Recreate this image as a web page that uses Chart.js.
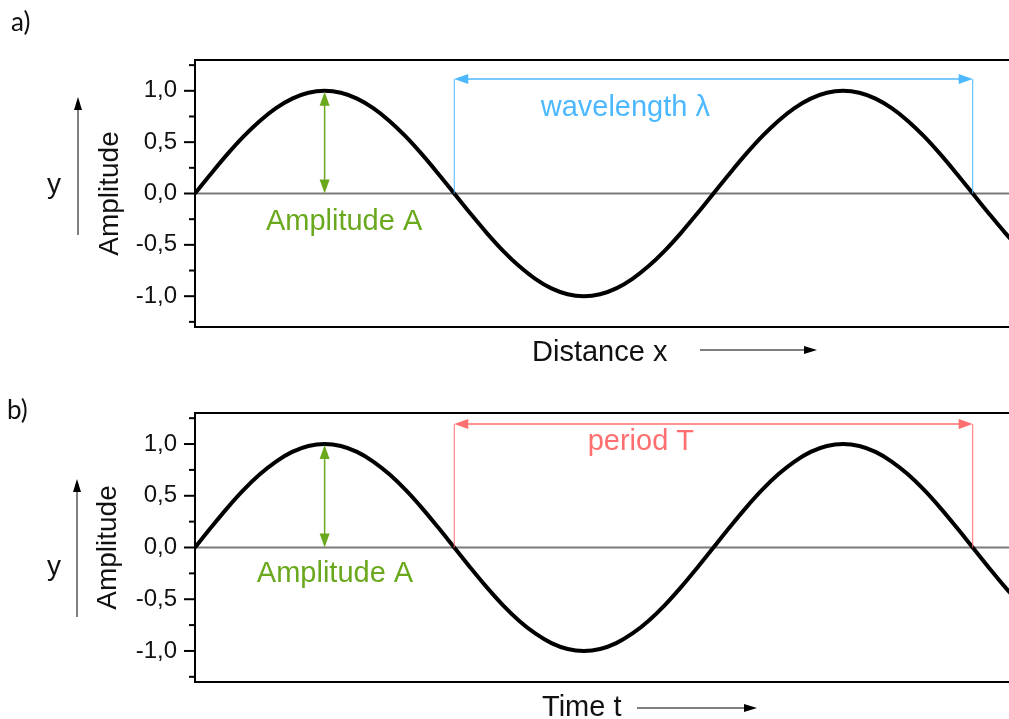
<!DOCTYPE html>
<html>
<head>
<meta charset="utf-8">
<script src="https://cdn.jsdelivr.net/npm/chart.js@4.4.0/dist/chart.umd.min.js"></script>
<style>
  body{margin:0;background:#fff;}
  #wrap{position:relative;width:1009px;height:719px;overflow:hidden;}
  canvas{position:absolute;left:0;}
</style>
</head>
<body>
<div id="wrap">
  <canvas id="waveA" width="1009" height="380" style="top:0"></canvas>
  <canvas id="waveB" width="1009" height="339" style="top:380px"></canvas>
</div>
<script>
// x in quarter wavelengths (0 = left axis), y
const xPos = [0,0.125,0.25,0.375,0.5,0.625,0.75,0.875,1,1.125,1.25,1.375,1.5,1.625,1.75,1.875,
  2,2.125,2.25,2.375,2.5,2.625,2.75,2.875,3,3.125,3.25,3.375,3.5,3.625,3.75,3.875,
  4,4.125,4.25,4.375,4.5,4.625,4.75,4.875,5,5.125,5.25,5.375,5.5,5.625,5.75,5.875,
  6,6.125,6.25,6.375,6.5];
const amplitude = [0,0.195,0.383,0.556,0.707,0.831,0.924,0.981,1,0.981,0.924,0.831,0.707,0.556,0.383,0.195,
  0,-0.195,-0.383,-0.556,-0.707,-0.831,-0.924,-0.981,-1,-0.981,-0.924,-0.831,-0.707,-0.556,-0.383,-0.195,
  0,0.195,0.383,0.556,0.707,0.831,0.924,0.981,1,0.981,0.924,0.831,0.707,0.556,0.383,0.195,
  0,-0.195,-0.383,-0.556,-0.707];
const yMajor = [-1,-0.5,0,0.5,1];
const yLabels = ['-1,0','-0,5','0,0','0,5','1,0'];
const spanFrom = 2, spanTo = 6;   // bracket ends (zero crossings)
const ampAt = 1;                  // first crest

const GREEN = '#6aa81e';

function arrowHead(ctx, x, y, ang, len, half, color){
  ctx.save();
  ctx.translate(x, y);
  ctx.rotate(ang);
  ctx.beginPath();
  ctx.moveTo(0, 0);
  ctx.lineTo(-len, -half);
  ctx.lineTo(-len, half);
  ctx.closePath();
  ctx.fillStyle = color;
  ctx.fill();
  ctx.restore();
}

const decor = {
  id: 'decor',
  beforeDatasetsDraw(chart){
    const {ctx, chartArea: a, scales: {y}} = chart;
    const y0 = y.getPixelForValue(0);
    ctx.save();
    ctx.strokeStyle = '#7a7a7a';
    ctx.lineWidth = 2;
    ctx.beginPath();
    ctx.moveTo(a.left, y0);
    ctx.lineTo(a.right, y0);
    ctx.stroke();
    ctx.restore();
  },
  afterDraw(chart, args, o){
    const {ctx, chartArea: a, scales: {x, y}} = chart;
    ctx.save();
    // frame
    ctx.strokeStyle = '#000';
    ctx.lineWidth = 2;
    ctx.beginPath();
    ctx.moveTo(a.right, a.top);
    ctx.lineTo(a.left, a.top);
    ctx.lineTo(a.left, a.bottom);
    ctx.lineTo(a.right, a.bottom);
    ctx.stroke();
    // y ticks
    y.ticks.forEach(t => {
      const py = y.getPixelForValue(t.value);
      const len = t.label ? 11 : 6;
      ctx.beginPath();
      ctx.moveTo(a.left - len, py);
      ctx.lineTo(a.left, py);
      ctx.stroke();
    });

    // amplitude arrow
    const ax = x.getPixelForValue(ampAt);
    const ay0 = y.getPixelForValue(0), ay1 = y.getPixelForValue(1);
    ctx.strokeStyle = GREEN;
    ctx.lineWidth = 1.5;
    ctx.beginPath();
    ctx.moveTo(ax, ay0 - 10);
    ctx.lineTo(ax, ay1 + 10);
    ctx.stroke();
    arrowHead(ctx, ax, ay1 + 1, -Math.PI/2, 14, 5, GREEN);
    arrowHead(ctx, ax, ay0, Math.PI/2, 14, 5, GREEN);
    ctx.fillStyle = GREEN;
    ctx.font = '29px "Liberation Sans", Arial, sans-serif';
    ctx.textAlign = 'center';
    ctx.textBaseline = 'alphabetic';
    ctx.fillText('Amplitude A', x.getPixelForValue(o.ampText[0]), y.getPixelForValue(o.ampText[1]));

    // wavelength / period bracket
    const sx0 = x.getPixelForValue(spanFrom), sx1 = x.getPixelForValue(spanTo);
    const sy = y.getPixelForValue(o.spanY);
    ctx.strokeStyle = o.spanColor;
    ctx.lineWidth = 1;
    ctx.beginPath();
    ctx.moveTo(sx0, ay0); ctx.lineTo(sx0, sy);
    ctx.moveTo(sx1, ay0); ctx.lineTo(sx1, sy);
    ctx.stroke();
    ctx.lineWidth = 1.5;
    ctx.beginPath();
    ctx.moveTo(sx0 + 10, sy); ctx.lineTo(sx1 - 10, sy);
    ctx.stroke();
    arrowHead(ctx, sx0, sy, Math.PI, 14, 5, o.spanColor);
    arrowHead(ctx, sx1, sy, 0, 14, 5, o.spanColor);
    ctx.fillStyle = o.spanColor;
    ctx.fillText(o.spanText, x.getPixelForValue(o.spanTextAt[0]), y.getPixelForValue(o.spanTextAt[1]));

    // panel letter, y symbol and axis arrows
    ctx.fillStyle = '#111';
    ctx.textAlign = 'left';
    ctx.font = '26px Lato, "Open Sans", sans-serif';
    ctx.fillText(o.letter[0], o.letter[1], o.letter[2]);
    ctx.font = '28px "Liberation Sans", Arial, sans-serif';
    ctx.textAlign = 'center';
    ctx.fillText('y', o.ySym[0], o.ySym[1]);
    ctx.strokeStyle = '#000';
    ctx.lineWidth = 1;
    ctx.beginPath();
    ctx.moveTo(o.upArrow[0], o.upArrow[1]);
    ctx.lineTo(o.upArrow[0], o.upArrow[2] + 8);
    ctx.stroke();
    arrowHead(ctx, o.upArrow[0], o.upArrow[2], -Math.PI/2, 13, 4, '#000');

    ctx.textAlign = 'left';
    ctx.font = '29px "Liberation Sans", Arial, sans-serif';
    ctx.fillText(o.xTitle[0], o.xTitle[1], o.xTitle[2]);
    ctx.beginPath();
    ctx.moveTo(o.xArrow[1], o.xArrow[0]);
    ctx.lineTo(o.xArrow[2] - 8, o.xArrow[0]);
    ctx.stroke();
    arrowHead(ctx, o.xArrow[2], o.xArrow[0], 0, 13, 4, '#000');
    ctx.restore();
  }
};

function makePanel(id, pad, titlePad, deco){
  return new Chart(document.getElementById(id), {
    type: 'line',
    data: {
      datasets: [{
        data: xPos.map((v, i) => ({x: v, y: amplitude[i]})),
        borderColor: '#000',
        borderWidth: 4,
        pointRadius: 0,
        cubicInterpolationMode: 'monotone',
        fill: false
      }]
    },
    options: {
      responsive: false,
      animation: false,
      events: [],
      layout: {padding: {left: 80, right: 0, top: pad[0], bottom: pad[1]}},
      plugins: {legend: {display: false}, tooltip: {enabled: false}, decor: deco},
      scales: {
        x: {type: 'linear', min: 0, max: 6.28, display: false},
        y: {
          min: -1.3, max: 1.3,
          afterFit: s => { s.width = 115; },
          border: {display: false},
          grid: {display: true, drawOnChartArea: false, drawTicks: true, tickLength: 11, tickColor: 'rgba(0,0,0,0)'},
          ticks: {
            stepSize: 0.25,
            includeBounds: false,
            padding: 7,
            color: '#111',
            autoSkip: false,
            font: {family: '"Liberation Sans", Arial, sans-serif', size: 24},
            callback: v => {
              const i = yMajor.findIndex(m => Math.abs(m - v) < 1e-6);
              return i >= 0 ? yLabels[i] : '';
            }
          },
          title: {
            display: true,
            text: 'Amplitude',
            color: '#111',
            padding: {top: titlePad, bottom: 0},
            font: {family: '"Liberation Sans", Arial, sans-serif', size: 28}
          }
        }
      }
    },
    plugins: [decor]
  });
}

makePanel('waveA', [60, 53], 13, {
  letter: ['a)', 11, 31],
  ySym: [54, 193],
  upArrow: [78, 235, 97],
  xTitle: ['Distance x', 532, 361],
  xArrow: [350, 700, 817],
  spanColor: '#4cb8ff',
  spanY: 1.115,
  spanText: 'wavelength \u03bb',
  spanTextAt: [3.32, 0.75],
  ampText: [1.15, -0.355]
});

makePanel('waveB', [33, 37], 11, {
  letter: ['b)', 7, 39],
  ySym: [54, 195],
  upArrow: [77, 237, 99],
  xTitle: ['Time t', 542, 336],
  xArrow: [328, 637, 757],
  spanColor: '#ff6f6f',
  spanY: 1.193,
  spanText: 'period T',
  spanTextAt: [3.44, 0.94],
  ampText: [1.08, -0.33]
});
</script>
</body>
</html>
